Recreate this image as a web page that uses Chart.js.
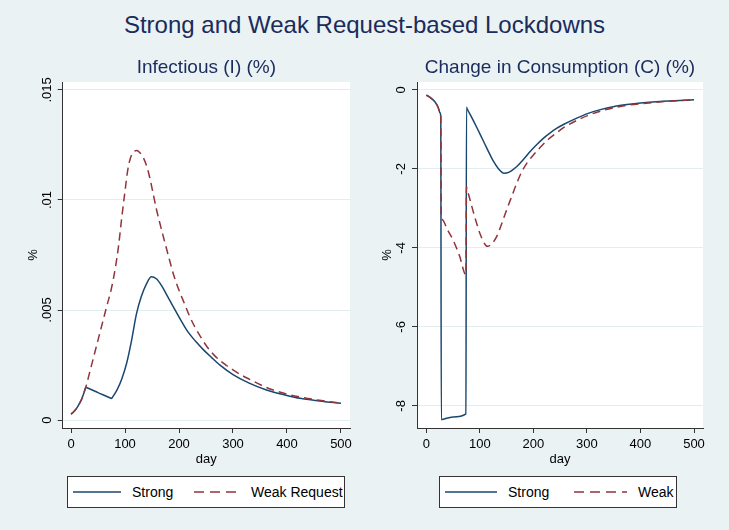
<!DOCTYPE html>
<html>
<head>
<meta charset="utf-8">
<script src="https://cdn.jsdelivr.net/npm/chart.js@4.4.1/dist/chart.umd.min.js"></script>
<style>
  body { margin: 0; background: #eaf2f3; font-family: "Liberation Sans", Arial, sans-serif; }
  #page { position: relative; width: 729px; height: 530px; overflow: hidden; }
  #mainTitle { position: absolute; left: 0; top: 10px; width: 729px; line-height: 30px; text-align: center; font-size: 24px; color: #1a2b5c; }
  canvas { position: absolute; }
  .legend { position: absolute; top: 476px; height: 30px; border: 1px solid #333; background: #fff; font-size: 14px; color: #000; }
  .legend > * { position: absolute; top: 0; height: 30px; display: flex; align-items: center; }
  .legend span { white-space: nowrap; }
</style>
</head>
<body>
<div id="page">
  <div id="mainTitle">Strong and Weak Request-based Lockdowns</div>
  <canvas id="infChart" width="365" height="430" style="left:0;top:40px"></canvas>
  <canvas id="consChart" width="365" height="430" style="left:364px;top:40px"></canvas>

  <div class="legend" style="left:67px;width:276px">
    <svg style="left:5px" width="48" height="30"><line x1="0" y1="15" x2="48" y2="15" stroke="#1a476f" stroke-width="1.5"/></svg>
    <span style="left:64px">Strong</span>
    <svg style="left:126px" width="44" height="30"><line x1="0" y1="15" x2="44" y2="15" stroke="#90353b" stroke-width="1.5" stroke-dasharray="10 6"/></svg>
    <span style="left:183px">Weak Request</span>
  </div>
  <div class="legend" style="left:439px;width:236px">
    <svg style="left:5px" width="52" height="30"><line x1="0" y1="15" x2="52" y2="15" stroke="#1a476f" stroke-width="1.5"/></svg>
    <span style="left:68px">Strong</span>
    <svg style="left:134px" width="53" height="30"><line x1="0" y1="15" x2="53" y2="15" stroke="#90353b" stroke-width="1.5" stroke-dasharray="10 6"/></svg>
    <span style="left:198px">Weak</span>
  </div>
</div>

<script>
// x ticks (days) shared by both panels
const dayTicks = [0, 100, 200, 300, 400, 500];

// Infectious (I) (%)
const infTicks = [0, 0.005, 0.01, 0.015];
const infTickLabels = ['0', '.005', '.01', '.015'];
const infStrongDays = [0, 5, 10, 15, 20, 24, 27.5, 28.5, 50, 74, 75, 76, 85, 94, 103, 112, 121, 130, 140, 149, 158, 168, 177, 190, 202, 214, 230, 245, 260, 276, 300, 330, 362, 400, 424, 460, 500];
const infStrong = [0.00027, 0.00038, 0.00052, 0.00072, 0.00097, 0.00124, 0.00149, 0.00148, 0.00125, 0.00099, 0.00098, 0.00101, 0.00136, 0.00187, 0.00258, 0.0036, 0.0048, 0.0056, 0.0062, 0.00651, 0.00642, 0.0061, 0.0057, 0.00512, 0.0046, 0.0041, 0.0036, 0.0032, 0.00285, 0.0025, 0.00207, 0.00168, 0.00137, 0.00112, 0.00099, 0.00087, 0.00076];
const infWeakDays = [0, 5, 10, 15, 20, 24, 27.5, 35, 45, 55, 65, 75, 82, 88, 94, 100, 105, 110, 116, 122, 128, 134, 140, 146, 152, 158, 164, 171, 180, 190, 200, 210, 220, 230, 240, 250, 265, 288, 300, 313, 330, 362, 400, 424, 460, 500];
const infWeak = [0.00027, 0.00038, 0.00052, 0.00072, 0.00097, 0.00124, 0.0015, 0.00221, 0.00316, 0.00411, 0.00506, 0.006, 0.0069, 0.0079, 0.0092, 0.0104, 0.01135, 0.0119, 0.01218, 0.01225, 0.01213, 0.01192, 0.01155, 0.011, 0.0103, 0.0096, 0.009, 0.00833, 0.0075, 0.0066, 0.0059, 0.0053, 0.0047, 0.0042, 0.00378, 0.0034, 0.00295, 0.00248, 0.00228, 0.00208, 0.00186, 0.00148, 0.00118, 0.00105, 0.0009, 0.00077];

// Change in Consumption (C) (%)
const consTicks = [-8, -6, -4, -2, 0];
const consTickLabels = ['-8', '-6', '-4', '-2', '0'];
const consStrongDays = [0, 8, 16, 22, 25.6, 27, 28, 29, 50, 74, 75, 76, 85, 95, 105, 115, 125, 135, 145, 155, 169, 182, 194, 206, 219, 232, 244, 257, 280, 301, 325, 351, 375, 400, 450, 500];
const consStrong = [-0.13, -0.2, -0.3, -0.44, -0.58, -0.68, -8.35, -8.347, -8.28, -8.2, -0.44, -0.47, -0.7, -0.97, -1.25, -1.53, -1.8, -2.0, -2.11, -2.08, -1.94, -1.75, -1.56, -1.39, -1.22, -1.08, -0.97, -0.87, -0.72, -0.6, -0.5, -0.42, -0.37, -0.33, -0.28, -0.25];
const consWeakDays = [0, 8, 16, 22, 25.6, 27, 28, 29, 40, 50, 62, 74, 75, 76, 82, 88, 94, 100, 107, 114, 122, 131.6, 140, 150, 160, 169, 178, 187.6, 200, 212.5, 228, 244, 257, 280, 301, 325, 351, 375, 400, 450, 500];
const consWeak = [-0.13, -0.2, -0.3, -0.44, -0.58, -0.68, -3.25, -3.275, -3.55, -3.8, -4.2, -4.68, -2.45, -2.5, -2.8, -3.1, -3.38, -3.63, -3.85, -3.96, -3.9, -3.71, -3.42, -3.04, -2.68, -2.36, -2.08, -1.86, -1.65, -1.46, -1.25, -1.08, -0.95, -0.78, -0.65, -0.54, -0.45, -0.39, -0.35, -0.29, -0.25];

const FONT = '"Liberation Sans", Arial, sans-serif';
Chart.defaults.font.family = FONT;
Chart.defaults.color = '#000';

function toPoints(xs, ys) {
    return xs.map((x, i) => ({ x: x, y: ys[i] }));
}

// white plot region like Stata's plotregion
const plotBg = {
    id: 'plotBg',
    beforeDraw(chart) {
        const { ctx, chartArea: a } = chart;
        ctx.save();
        ctx.fillStyle = '#fff';
        ctx.fillRect(a.left, a.top, a.right - a.left, a.bottom - a.top);
        ctx.restore();
    }
};

// y tick labels rotated, reading bottom to top
const yLabels = {
    id: 'yLabels',
    afterDraw(chart, args, opts) {
        const s = chart.scales.y;
        const ctx = chart.ctx;
        ctx.save();
        ctx.font = '13px ' + FONT;
        ctx.fillStyle = '#000';
        ctx.textAlign = 'center';
        ctx.textBaseline = 'middle';
        s.ticks.forEach((t, i) => {
            ctx.save();
            ctx.translate(s.right - 15.5, s.getPixelForValue(t.value));
            ctx.rotate(-Math.PI / 2);
            ctx.fillText(opts.labels[i], 0, 0);
            ctx.restore();
        });
        ctx.restore();
    }
};

function makeChart(id, cfg) {
    return new Chart(document.getElementById(id), {
        type: 'line',
        data: {
            datasets: [{
                label: 'Strong',
                data: toPoints(cfg.strongDays, cfg.strong),
                borderColor: '#1a476f',
                borderWidth: 1.5,
                order: 1
            }, {
                label: cfg.weakLabel,
                data: toPoints(cfg.weakDays, cfg.weak),
                borderColor: '#90353b',
                borderWidth: 1.5,
                borderDash: [8, 5],
                order: 0
            }]
        },
        options: {
            responsive: false,
            animation: false,
            elements: {
                point: { radius: 0 },
                line: { tension: 0.4, cubicInterpolationMode: 'monotone' }
            },
            layout: { padding: { left: 0, right: cfg.padRight, top: 0, bottom: 0 } },
            plugins: {
                legend: { display: false },
                tooltip: { enabled: false },
                title: {
                    display: true,
                    text: cfg.title,
                    fullSize: false,
                    color: '#1a2b5c',
                    font: { size: 19, weight: 'normal' },
                    padding: { top: 16.6, bottom: 2.6 }
                },
                yLabels: { labels: cfg.yLabels }
            },
            scales: {
                x: {
                    type: 'linear',
                    min: cfg.xMin,
                    max: cfg.xMax,
                    afterBuildTicks: s => { s.ticks = dayTicks.map(v => ({ value: v })); },
                    afterFit: s => { s.height = 42; },
                    grid: { drawOnChartArea: false, drawTicks: true, tickLength: 5, tickColor: '#333' },
                    border: { display: true, color: '#333', width: 1 },
                    ticks: { font: { size: 13 }, padding: 4, maxRotation: 0 },
                    title: { display: true, text: 'day', font: { size: 13 }, padding: { top: 0, bottom: 3.2 } }
                },
                y: {
                    type: 'linear',
                    min: cfg.yMin,
                    max: cfg.yMax,
                    afterBuildTicks: s => { s.ticks = cfg.yTicks.map(v => ({ value: v })); },
                    afterFit: s => { s.width = cfg.yWidth; },
                    grid: { color: '#e3edf0', lineWidth: 1, drawTicks: true, tickLength: 5, tickColor: '#333' },
                    border: { display: true, color: '#333', width: 1 },
                    ticks: { display: false },
                    title: { display: true, text: '%', font: { size: 13 }, padding: { top: cfg.yTitlePad, bottom: 0 } }
                }
            }
        },
        plugins: [plotBg, yLabels]
    });
}

makeChart('infChart', {
    title: 'Infectious (I) (%)',
    weakLabel: 'Weak Request',
    strongDays: infStrongDays, strong: infStrong,
    weakDays: infWeakDays, weak: infWeak,
    yTicks: infTicks, yLabels: infTickLabels,
    xMin: -15.4, xMax: 516.7,
    yMin: -0.00036, yMax: 0.01536,
    yWidth: 62.7, yTitlePad: 25.2, padRight: 15
});

makeChart('consChart', {
    title: 'Change in Consumption (C) (%)',
    weakLabel: 'Weak',
    strongDays: consStrongDays, strong: consStrong,
    weakDays: consWeakDays, weak: consWeak,
    yTicks: consTicks, yLabels: consTickLabels,
    xMin: -17.4, xMax: 516.8,
    yMin: -8.56, yMax: 0.2,
    yWidth: 53, yTitlePad: 15.2, padRight: 26
});
</script>
</body>
</html>
